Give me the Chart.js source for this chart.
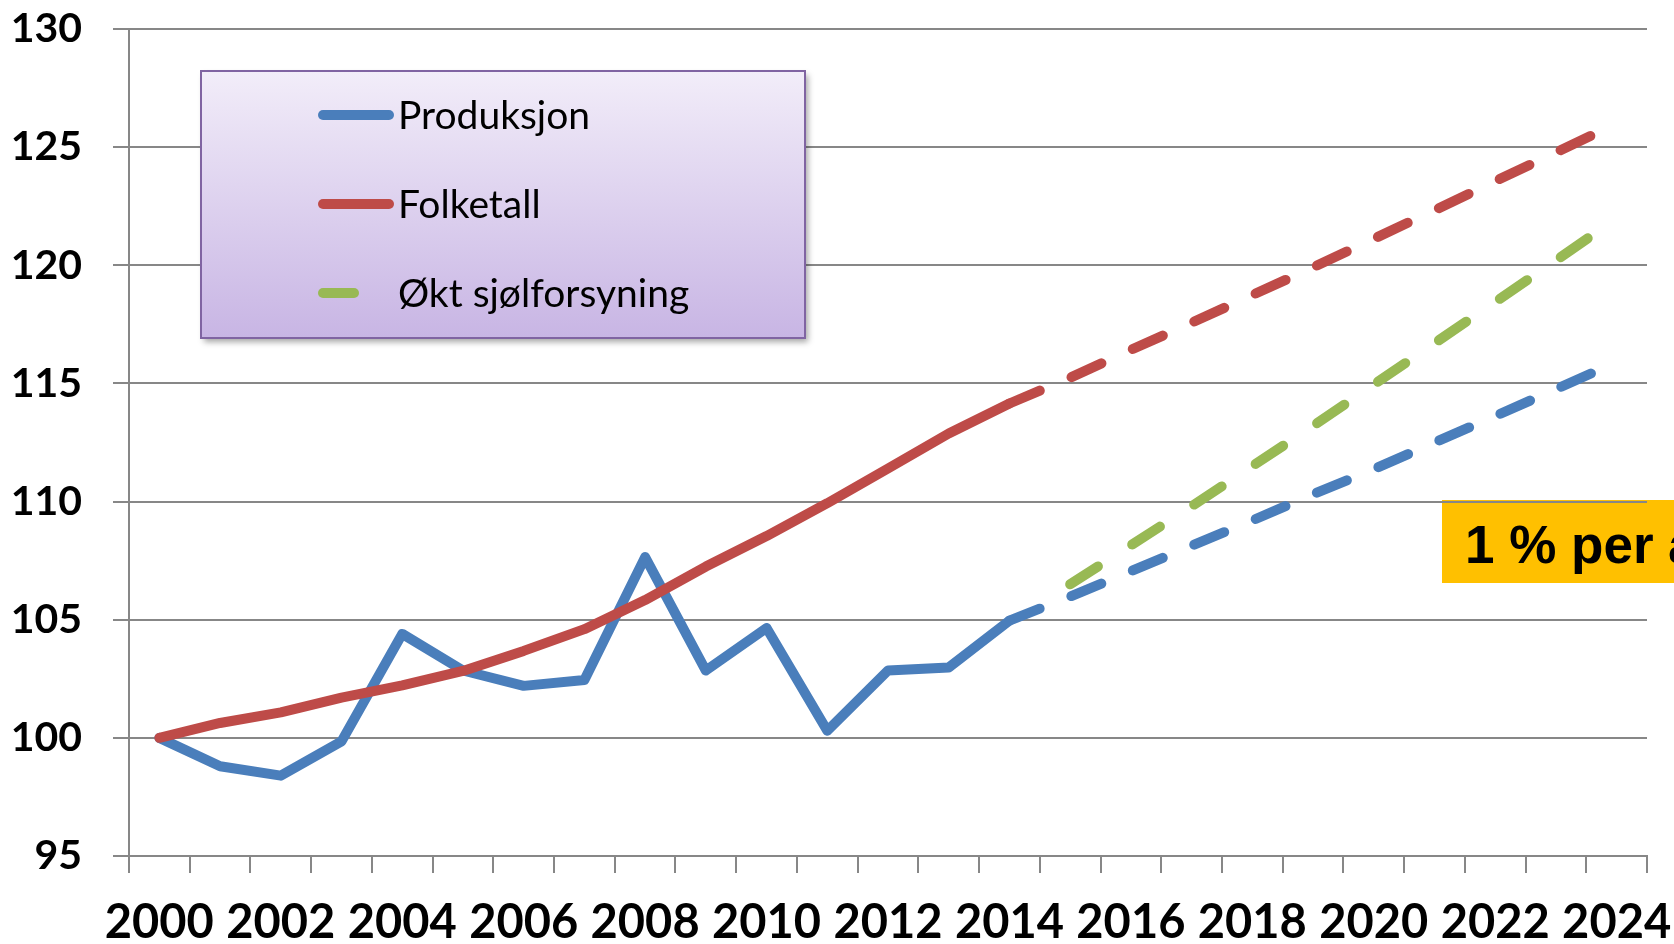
<!DOCTYPE html>
<html>
<head>
<meta charset="utf-8">
<script src="https://cdn.jsdelivr.net/npm/chart.js@4.4.1/dist/chart.umd.min.js"></script>
<style>
html,body{margin:0;padding:0;background:#ffffff;overflow:hidden}
canvas{display:block}
</style>
</head>
<body>
<canvas id="c" width="1674" height="944"></canvas>
<script>
// ---------- data ----------
const years = ['2000','2001','2002','2003','2004','2005','2006','2007','2008','2009','2010','2011','2012',
               '2013','2014','2015','2016','2017','2018','2019','2020','2021','2022','2023','2024'];
const produksjon = [100, 98.8, 98.4, 99.85, 104.4, 102.85, 102.2, 102.45, 107.65, 102.85, 104.65, 100.3, 102.85, 102.98, 104.96,
                    null, null, null, null, null, null, null, null, null, null];
const folketall = [100, 100.63, 101.08, 101.7, 102.22, 102.83, 103.68, 104.6, 105.83, 107.25, 108.54, 109.93, 111.4, 112.88, 114.15,
                   null, null, null, null, null, null, null, null, null, null];
const produksjonFram = [null, null, null, null, null, null, null, null, null, null, null, null, null, null,
                        104.96, 105.98, 107.05, 108.13, 109.2, 110.31, 111.37, 112.5, 113.62, 114.76, 115.9];
const folketallFram = [null, null, null, null, null, null, null, null, null, null, null, null, null, null,
                       114.15, 115.24, 116.42, 117.57, 118.74, 119.91, 121.12, 122.33, 123.56, 124.78, 126.0];
const sjolforsyning = [null, null, null, null, null, null, null, null, null, null, null, null, null, null, null,
                       106.5, 108.15, 109.8, 111.5, 113.2, 114.95, 116.7, 118.45, 120.2, 122.0];
const yMin = 95, yMax = 130, yStep = 5;
const seriesNames = ['Produksjon', 'Folketall', 'Økt sjølforsyning'];
const annotationText = '1 % per år';

// ---------- styles ----------
const BLUE = '#4A7EBB', RED = '#BE4B48', GREEN = '#98B954', GRID = '#878787';
const LW = 10;

const annotationPlugin = {
  id: 'annotationBox',
  beforeDraw(chart) {
    const ctx = chart.ctx;
    ctx.save();
    ctx.fillStyle = '#FFC000';
    ctx.fillRect(1442, 500, 260, 83);
    ctx.fillStyle = '#000';
    ctx.font = 'bold 53px "Liberation Sans", Arial, sans-serif';
    ctx.textBaseline = 'alphabetic';
    ctx.textAlign = 'left';
    ctx.fillText(annotationText, 1465, 563);
    ctx.restore();
  }
};

const legendPlugin = {
  id: 'legendBox',
  afterDraw(chart) {
    const ctx = chart.ctx;
    const x0 = 201, y0 = 71, x1 = 805, y1 = 338;
    ctx.save();
    ctx.shadowColor = 'rgba(0,0,0,0.35)';
    ctx.shadowBlur = 6; ctx.shadowOffsetX = 3; ctx.shadowOffsetY = 4;
    const g = ctx.createLinearGradient(0, y0, 0, y1);
    g.addColorStop(0, '#F2EDF9');
    g.addColorStop(1, '#C8B5E4');
    ctx.fillStyle = g;
    ctx.fillRect(x0, y0, x1 - x0, y1 - y0);
    ctx.shadowColor = 'transparent';
    ctx.strokeStyle = '#8064A2';
    ctx.lineWidth = 2;
    ctx.strokeRect(x0, y0, x1 - x0, y1 - y0);
    const items = [
      {label: seriesNames[0], color: BLUE, y: 115, len: 66},
      {label: seriesNames[1], color: RED, y: 204, len: 66},
      {label: seriesNames[2], color: GREEN, y: 293, len: 31}
    ];
    ctx.lineCap = 'round';
    ctx.lineWidth = LW;
    ctx.font = '39px Lato, "Open Sans", sans-serif';
    ctx.textBaseline = 'middle';
    ctx.textAlign = 'left';
    items.forEach(it => {
      ctx.strokeStyle = it.color;
      ctx.beginPath();
      ctx.moveTo(323, it.y);
      ctx.lineTo(323 + it.len, it.y);
      ctx.stroke();
      ctx.fillStyle = '#000';
      ctx.fillText(it.label, 398, it.y + 1);
    });
    ctx.restore();
  }
};

const common = {pointRadius: 0, pointHoverRadius: 0, borderWidth: LW, borderCapStyle: 'round',
                borderJoinStyle: 'round', fill: false, tension: 0, spanGaps: false};

new Chart(document.getElementById('c'), {
  type: 'line',
  data: {
    labels: years,
    datasets: [
      Object.assign({label: seriesNames[1], data: folketall, borderColor: RED}, common),
      Object.assign({label: seriesNames[1], data: folketallFram, borderColor: RED, borderDash: [33, 34.4]}, common),
      Object.assign({label: seriesNames[2], data: sjolforsyning, borderColor: GREEN, borderDash: [33, 40.7]}, common),
      Object.assign({label: seriesNames[0], data: produksjon, borderColor: BLUE}, common),
      Object.assign({label: seriesNames[0], data: produksjonFram, borderColor: BLUE, borderDash: [32.5, 34.1]}, common)
    ]
  },
  options: {
    responsive: false,
    animation: false,
    devicePixelRatio: 1,
    events: [],
    layout: {padding: {left: 0, right: 27, top: 29, bottom: 0}},
    plugins: {legend: {display: false}, tooltip: {enabled: false}},
    scales: {
      x: {
        type: 'category',
        offset: true,
        grid: {offset: true, drawOnChartArea: false, drawTicks: true, tickLength: 17, color: GRID, lineWidth: 2},
        border: {display: true, color: GRID, width: 2},
        ticks: {
          autoSkip: false, maxRotation: 0, minRotation: 0, padding: 22, color: '#000',
          font: {family: 'Lato, "Open Sans", sans-serif', weight: 'bold', size: 47},
          callback: function(value, index) { return index % 2 === 0 ? years[index] : ''; }
        },
        afterFit(scale) { scale.height = 88; scale.paddingLeft = 0; scale.paddingRight = 0; }
      },
      y: {
        min: yMin, max: yMax,
        grid: {color: GRID, lineWidth: 2, drawTicks: true, tickLength: 16},
        border: {display: true, color: GRID, width: 2},
        ticks: {
          stepSize: yStep, padding: 31, color: '#000',
          font: {family: 'Lato, "Open Sans", sans-serif', weight: 'bold', size: 41}
        },
        afterFit(scale) { scale.width = 129; scale.paddingTop = 0; scale.paddingBottom = 0; }
      }
    }
  },
  plugins: [annotationPlugin, legendPlugin]
});
</script>
</body>
</html>
